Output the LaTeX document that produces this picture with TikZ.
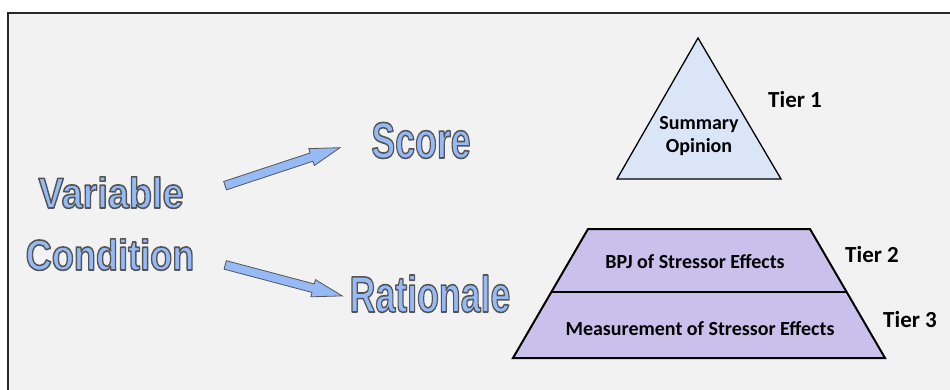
\documentclass[tikz,border=0pt]{standalone}
\usepackage{fontspec}
\usetikzlibrary{shapes.arrows}
\usetikzlibrary{calc}
\newfontfamily\artfont{Liberation Sans}
\newfontfamily\calfont{Carlito}
\definecolor{framebg}{RGB}{242,242,242}
\definecolor{frameline}{RGB}{40,40,40}
\definecolor{artfill}{RGB}{150,186,245}
\definecolor{artline}{RGB}{85,85,85}
\definecolor{topfill}{RGB}{218,230,248}
\definecolor{basefill}{RGB}{202,192,236}
\newcommand{\wordart}[2]{\scalebox{#1}[1]{\textcolor{artfill}{%
    \special{pdf:literal direct 0.33 0.33 0.33 RG 1.6 w 1 j 2 Tr}#2\special{pdf:literal direct 0 Tr}}}}
\tikzset{x=1pt, y=-1pt,
    bigword/.style={
        anchor=base,
        inner sep=0pt,
        font=\artfont\bfseries\fontsize{#1}{#1}\selectfont},
    blockarrow/.style={
        single arrow,
        draw=artline,
        fill=artfill,
        line width=0.8pt,
        inner sep=0pt,
        single arrow head extend=4.5pt,
        single arrow tip angle=33},
    tierlabel/.style={
        anchor=base west,
        inner sep=0pt,
        font=\calfont\bfseries\fontsize{23}{26}\selectfont},
    tiertext/.style={
        anchor=base,
        inner sep=0pt,
        font=\calfont\bfseries\fontsize{20}{24}\selectfont},
    tiershape/.style={
        draw=black,
        line join=miter}}

\begin{document}
\begin{tikzpicture}
    \useasboundingbox (0,0) rectangle (950,390);
    \fill[white] (0,0) rectangle (950,390);
    \draw[frameline, fill=framebg, line width=1.5pt] (8,13) rectangle (970,410);

    \node[bigword=43] (var) at (111,208) {\wordart{0.88}{Variable}};
    \node[bigword=43] (cond) at (110,270) {\wordart{0.84}{Condition}};
    \node[bigword=51] (score) at (421,158) {\wordart{0.70}{Score}};
    \node[bigword=51] (rat) at (430,312) {\wordart{0.70}{Rationale}};

    \coordinate (up1) at (218,188);
    \coordinate (up2) at (333,150);
    \coordinate (dn1) at (218,263);
    \coordinate (dn2) at (335,294);
    \path let \p1=($(up2)-(up1)$), \n1={veclen(\x1,\y1)} in
        (up1) -- (up2) node[midway, sloped, blockarrow, minimum height=\n1] (toscore) {\rule{0pt}{8pt}};
    \path let \p1=($(dn2)-(dn1)$), \n1={veclen(\x1,\y1)} in
        (dn1) -- (dn2) node[midway, sloped, blockarrow, minimum height=\n1] (torat) {\rule{0pt}{8pt}};

    \coordinate (apex) at (698,38);
    \coordinate (tri r) at (781,179);
    \coordinate (tri l) at (617,179);
    \draw[tiershape, fill=topfill, line width=1.3pt] (apex) -- (tri r) -- (tri l) -- cycle;

    \coordinate (tl) at (588,229);
    \coordinate (tr) at (810,229);
    \coordinate (br) at (885,358);
    \coordinate (bl) at (513,358);
    \draw[tiershape, fill=basefill, line width=2pt] (tl) -- (tr) -- (br) -- (bl) -- cycle;
    \draw[tiershape, line width=1.3pt] ($(tl)!0.488!(bl)$) -- ($(tr)!0.488!(br)$);

    \node[tiertext] (summ) at (699,130) {Summary};
    \node[tiertext] (opin) at (699,153) {Opinion};
    \node[tiertext] (bpj) at (695,268) {BPJ of Stressor Effects};
    \node[tiertext] (meas) at (700,335) {Measurement of Stressor Effects};

    \node[tierlabel] (tier1) at (768,108) {Tier 1};
    \node[tierlabel] (tier2) at (845,262) {Tier 2};
    \node[tierlabel] (tier3) at (883,327) {Tier 3};
\end{tikzpicture}
\end{document}
